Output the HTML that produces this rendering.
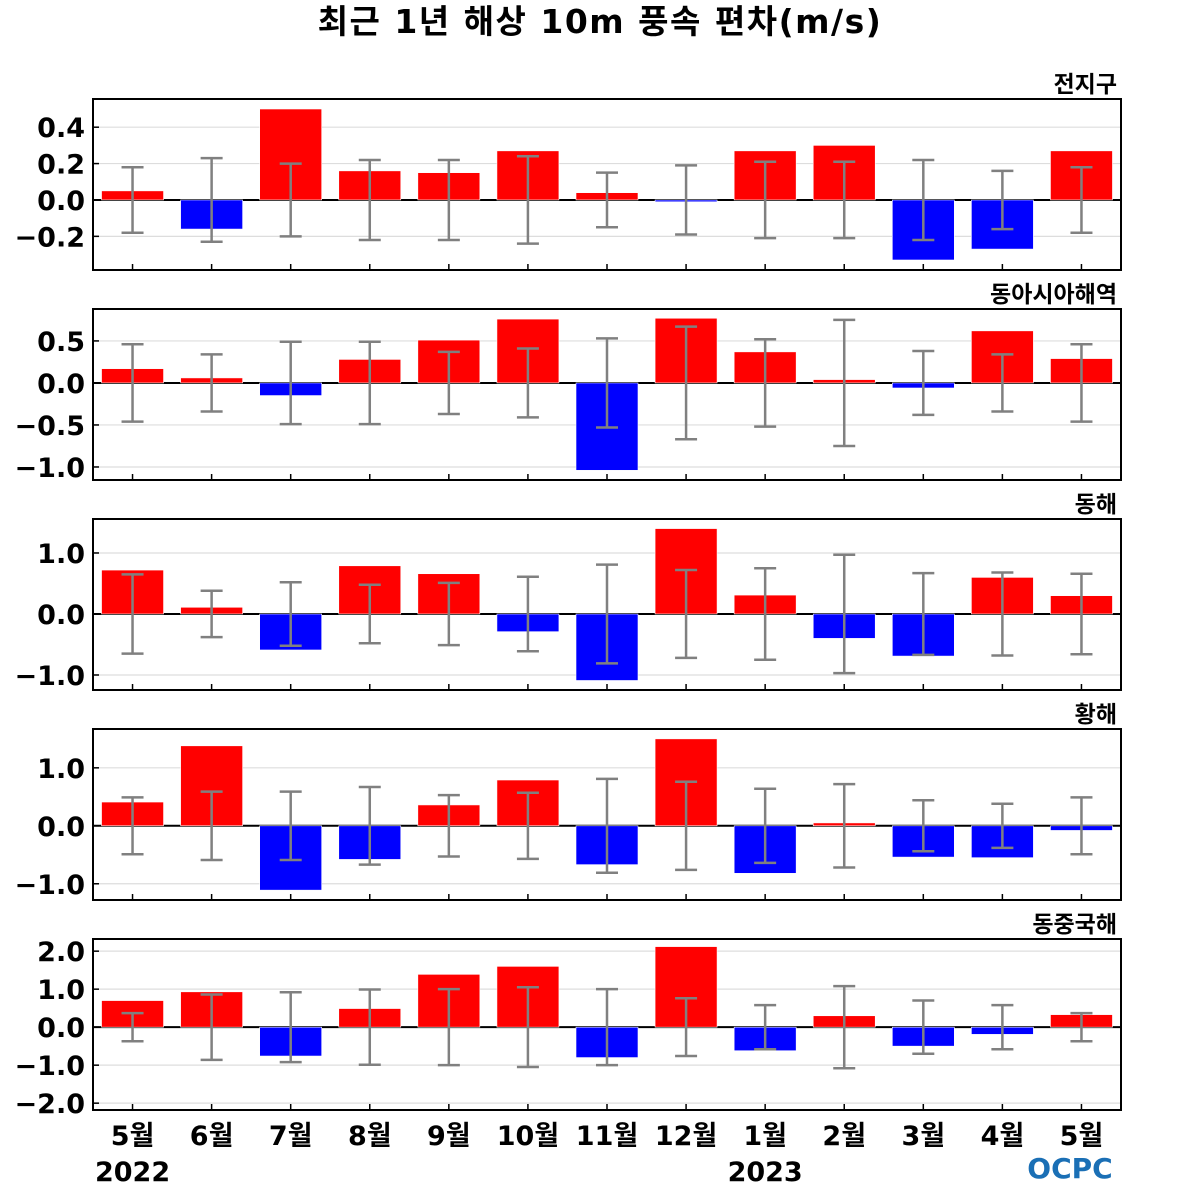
<!DOCTYPE html>
<html><head><meta charset="utf-8"><style>
body{margin:0;background:#fff;}
svg{display:block;font-family:"Liberation Sans","DejaVu Sans","Noto Sans CJK KR",sans-serif;}
</style></head><body>
<svg id="chart" width="1200" height="1200" viewBox="0 0 1200 1200">
<text x="600" y="33" text-anchor="middle" font-size="33" font-weight="bold" letter-spacing="1.5" font-family="DejaVu Sans, Noto Sans CJK KR, sans-serif">최근 1년 해상 10m 풍속 편차(m/s)</text>
</svg>
<script>
const months = ["5월","6월","7월","8월","9월","10월","11월","12월","1월","2월","3월","4월","5월"];
const regionNames = ["전지구","동아시아해역","동해","황해","동중국해"];
const globalVals = [0.05,-0.16,0.50,0.16,0.15,0.27,0.04,-0.01,0.27,0.30,-0.33,-0.27,0.27];
const globalErr = [0.18,0.23,0.20,0.22,0.22,0.24,0.15,0.19,0.21,0.21,0.22,0.16,0.18];
const eastAsiaVals = [0.17,0.06,-0.15,0.28,0.51,0.76,-1.04,0.77,0.37,0.04,-0.06,0.62,0.29];
const eastAsiaErr = [0.46,0.34,0.49,0.49,0.37,0.41,0.53,0.67,0.52,0.75,0.38,0.34,0.46];
const eastSeaVals = [0.72,0.11,-0.59,0.79,0.66,-0.29,-1.09,1.40,0.31,-0.40,-0.69,0.60,0.30];
const eastSeaErr = [0.65,0.38,0.52,0.48,0.51,0.61,0.81,0.72,0.75,0.97,0.67,0.68,0.66];
const yellowSeaVals = [0.41,1.38,-1.11,-0.58,0.36,0.79,-0.67,1.50,-0.82,0.05,-0.54,-0.55,-0.08];
const yellowSeaErr = [0.49,0.59,0.59,0.67,0.53,0.57,0.81,0.76,0.64,0.72,0.44,0.38,0.49];
const ecsVals = [0.70,0.93,-0.76,0.49,1.39,1.60,-0.80,2.12,-0.62,0.30,-0.50,-0.19,0.33];
const ecsErr = [0.37,0.86,0.92,0.99,1.00,1.05,1.00,0.76,0.58,1.08,0.70,0.58,0.37];
const ticks0 = [-0.2,0.0,0.2,0.4];
const ticks1 = [-1.0,-0.5,0.0,0.5];
const ticks2 = [-1.0,0.0,1.0];
const ticks3 = [-1.0,0.0,1.0];
const ticks4 = [-2.0,-1.0,0.0,1.0,2.0];
const yMin = [-0.385,-1.155,-1.246,-1.28,-2.18];
const yMax = [0.555,0.88,1.557,1.67,2.32];

const panels=[[globalVals,globalErr,ticks0],[eastAsiaVals,eastAsiaErr,ticks1],[eastSeaVals,eastSeaErr,ticks2],[yellowSeaVals,yellowSeaErr,ticks3],[ecsVals,ecsErr,ticks4]];
const svg=document.getElementById('chart');
const NS="http://www.w3.org/2000/svg";
function mk(tag,attrs,parent){const e=document.createElementNS(NS,tag);for(const k in attrs)e.setAttribute(k,attrs[k]);(parent||svg).appendChild(e);return e;}
const X0=93,X1=1121,step=(X1-X0)/13;
function xs(i){return X0+(i+0.5)*step;}
const fmt=v=>(v<0?"\u2212":"")+Math.abs(v).toFixed(1);
panels.forEach((p,pi)=>{
  const top=99+pi*210, bot=top+171;
  const ys=v=>bot-(v-yMin[pi])/(yMax[pi]-yMin[pi])*(bot-top);
  const g=mk('g',{});
  
  
  const lab=mk('text',{x:1117,y:top-7,'text-anchor':'end','font-size':23,'font-weight':'bold'},g);
  lab.textContent=regionNames[pi];
  
  
  p[2].forEach(t=>{
    const y=ys(t);
    const gl=mk('line',{x1:X0,x2:X1,y1:y,y2:y,stroke:'#ddd','stroke-width':1.2},g);
    
    
    mk('line',{x1:X0,x2:X0+6,y1:y,y2:y,stroke:'#000','stroke-width':1.5},g);
    const tl=mk('text',{x:85,y:y+10,'text-anchor':'end','font-size':27,'font-weight':'bold','font-family':'DejaVu Sans, sans-serif'},g);
    tl.textContent=fmt(t);
    
    
  });
  const y0=ys(0);
  mk('line',{x1:X0,x2:X1,y1:y0,y2:y0,stroke:'#000','stroke-width':2},g);
  p[0].forEach((v,i)=>{
    const cx=xs(i),w=62;
    const r=mk('rect',{x:cx-w/2,y:Math.min(ys(v),y0),width:w,height:Math.max(Math.abs(ys(v)-y0),1),fill:v>=0?'#ff0000':'#0000ff',stroke:'#fff','stroke-width':0.6},g);
    
    
    mk('line',{x1:cx,x2:cx,y1:bot,y2:bot-6,stroke:'#000','stroke-width':1.5},g);
    const e=p[1][i],yt=ys(e),yb=ys(-e);
    const eb=mk('path',{d:`M${cx},${yt}V${yb}M${cx-11},${yt}H${cx+11}M${cx-11},${yb}H${cx+11}`,stroke:'#808080','stroke-width':2.5,fill:'none'},g);
    
    
  });
  const fr=mk('rect',{x:X0,y:top,width:X1-X0,height:bot-top,fill:'none',stroke:'#000','stroke-width':2},g);
  
  
});
months.forEach((m,i)=>{
  const t=mk('text',{x:xs(i),y:1145,'text-anchor':'middle','font-size':27,'font-weight':'bold','font-family':'DejaVu Sans, Noto Sans CJK KR, sans-serif'});
  t.textContent=m;
  
  
});
[["2022",0],["2023",8]].forEach(([y,i])=>{
  const t=mk('text',{x:xs(i),y:1181,'text-anchor':'middle','font-size':27,'font-weight':'bold','font-family':'DejaVu Sans, sans-serif'});
  t.textContent=y;
  
  
});
const logo=mk('text',{x:1070,y:1178,'text-anchor':'middle','font-size':28,'font-weight':'bold',fill:'#1a6fb5','font-family':'DejaVu Sans, sans-serif'});
logo.textContent="OCPC";


</script>
</body></html>
